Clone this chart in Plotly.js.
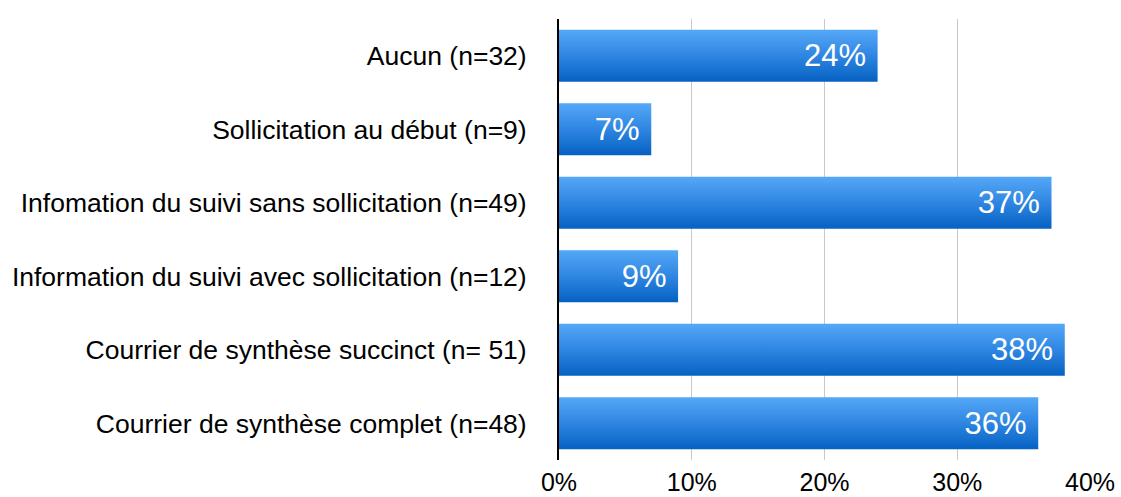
<!DOCTYPE html>
<html>
<head>
<meta charset="utf-8">
<script src="https://cdn.plot.ly/plotly-3.0.1.min.js"></script>
<style>html,body{margin:0;padding:0;background:#fff;}#chart{width:1121px;height:497px;}</style>
</head>
<body>
<div id="chart"></div>
<script>
const categories = [
  "Aucun (n=32)",
  "Sollicitation au début (n=9)",
  "Infomation du suivi sans sollicitation (n=49)",
  "Information du suivi avec sollicitation (n=12)",
  "Courrier de synthèse succinct (n= 51)",
  "Courrier de synthèse complet (n=48)"
];
const values = [24.0, 6.95, 37.1, 8.97, 38.1, 36.1];
const valueLabels = ["24%", "7%", "37%", "9%", "38%", "36%"];
const xTickVals = [0, 10, 20, 30, 40];
const xTickText = ["0%", "10%", "20%", "30%", "40%"];

const font = "'Liberation Sans', Arial, Helvetica, sans-serif";

const trace = {
  type: "bar",
  orientation: "h",
  y: categories,
  x: values,
  text: valueLabels,
  texttemplate: "%{text}\u00a0",
  textposition: "inside",
  insidetextanchor: "end",
  textfont: {family: font, size: 31, color: "#ffffff"},
  marker: {color: "#2a80dc", line: {width: 0}},
  width: 0.71,
  hoverinfo: "none"
};

const layout = {
  width: 1121, height: 497,
  margin: {l: 559, r: 31, t: 19, b: 37},
  paper_bgcolor: "#ffffff",
  plot_bgcolor: "#ffffff",
  showlegend: false,
  font: {family: font, color: "#000000"},
  xaxis: {
    range: [0, 40],
    tickvals: xTickVals,
    ticktext: xTickText,
    showgrid: true,
    gridcolor: "#c8c8c8",
    gridwidth: 1,
    zeroline: false,
    showline: false,
    ticks: "",
    ticklabelstandoff: 5,
    tickfont: {family: font, size: 25, color: "#000"},
    fixedrange: true
  },
  yaxis: {
    autorange: "reversed",
    showgrid: false,
    zeroline: false,
    showline: true,
    linecolor: "#000000",
    linewidth: 2,
    ticks: "",
    ticklabelstandoff: 25,
    tickfont: {family: font, size: 26.5, color: "#000"},
    fixedrange: true
  }
};

Plotly.newPlot("chart", [trace], layout, {displayModeBar: false, staticPlot: true}).then(function(gd){
  const svg = gd.querySelector("svg.main-svg");
  const ns = "http://www.w3.org/2000/svg";
  let defs = svg.querySelector("defs");
  if (!defs) { defs = document.createElementNS(ns, "defs"); svg.insertBefore(defs, svg.firstChild); }
  const lg = document.createElementNS(ns, "linearGradient");
  lg.setAttribute("id", "barGrad");
  lg.setAttribute("x1", "0"); lg.setAttribute("y1", "0");
  lg.setAttribute("x2", "0"); lg.setAttribute("y2", "1");
  [["0", "#55a8f7"], ["0.5", "#2f86e2"], ["1", "#0561c2"]].forEach(function(s){
    const st = document.createElementNS(ns, "stop");
    st.setAttribute("offset", s[0]);
    st.setAttribute("stop-color", s[1]);
    lg.appendChild(st);
  });
  defs.appendChild(lg);
  gd.querySelectorAll(".barlayer .point path").forEach(function(p){
    p.style.fill = "url(#barGrad)";
  });
});
</script>
</body>
</html>
